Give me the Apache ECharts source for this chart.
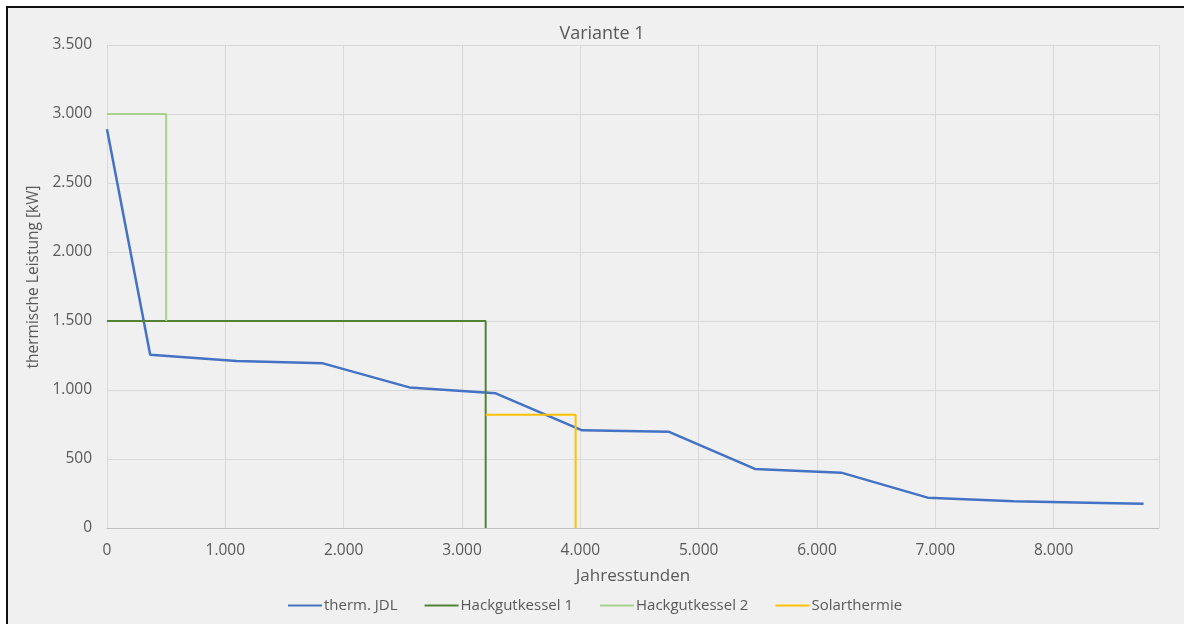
<!DOCTYPE html>
<html>
<head>
<meta charset="utf-8">
<script src="https://cdn.jsdelivr.net/npm/echarts@6/dist/echarts.min.js"></script>
<style>
html,body{margin:0;padding:0;background:#fff;}
#bg{position:absolute;left:6px;top:6px;width:1178px;height:618px;background:#f0f0f0;border-left:2px solid #111;border-top:2px solid #111;box-sizing:border-box;}
#c{position:absolute;left:0;top:0;width:1184px;height:624px;}
</style>
</head>
<body>
<div id="bg"></div>
<div id="c"></div>
<script>
// Data
const jdlHours  = [0, 365, 1095, 1825, 2555, 3285, 4015, 4745, 5475, 6205, 6935, 7665, 8395, 8760];
const jdlValues = [2890, 1256, 1210, 1193, 1019, 976, 708, 698, 428, 401, 220, 193, 181, 175];
const hk1Hours  = [0, 3200, 3200];
const hk1Values = [1500, 1500, 0];
const hk2Hours  = [0, 500, 500];
const hk2Values = [3000, 3000, 1500];
const solHours  = [3200, 3960, 3960];
const solValues = [820, 820, 0];
const seriesNames = ['therm. JDL', 'Hackgutkessel 1', 'Hackgutkessel 2', 'Solarthermie'];
const titleText = 'Variante 1';
const xName = 'Jahresstunden';
const yName = 'thermische Leistung [kW]';

const pairs = (xs, ys) => xs.map((x, i) => [x, ys[i]]);
const fmt = v => String(v).replace(/\B(?=(\d{3})+(?!\d))/g, '.');
const FONT = 'Open Sans';
const TXT = '#595959';

const chart = echarts.init(document.getElementById('c'), null, {renderer: 'canvas'});
const mk = (name, data, color, width) => ({
  name, type: 'line', data, showSymbol: false, symbol: 'none',
  lineStyle: {color, width}, itemStyle: {color}, animation: false
});
chart.setOption({
  backgroundColor: 'transparent',
  textStyle: {fontFamily: FONT},
  title: {
    text: titleText, left: 597, top: 20, textAlign: 'center',
    textStyle: {fontFamily: FONT, fontSize: 18, fontWeight: 'normal', color: TXT}
  },
  grid: {left: 107, right: 25, top: 45, bottom: 96},
  xAxis: {
    type: 'value', min: 0, max: 8890, interval: 1000,
    name: xName, nameLocation: 'middle', nameGap: 40,
    nameTextStyle: {fontFamily: FONT, fontSize: 17, color: TXT},
    axisLine: {show: true, lineStyle: {color: '#bfbfbf', width: 1}},
    axisTick: {show: false},
    axisLabel: {color: TXT, fontFamily: FONT, fontSize: 15.5, margin: 15, formatter: fmt, showMaxLabel: false},
    splitLine: {show: true, lineStyle: {color: '#d9d9d9', width: 1}}
  },
  yAxis: {
    type: 'value', min: 0, max: 3500, interval: 500,
    name: yName, nameLocation: 'middle', nameGap: 61, nameRotate: 90,
    nameTextStyle: {fontFamily: FONT, fontSize: 15.5, color: TXT, padding: [0, 0, 0, 19]},
    axisLine: {show: false},
    axisTick: {show: false},
    axisLabel: {color: TXT, fontFamily: FONT, fontSize: 15.5, margin: 15, formatter: fmt},
    splitLine: {show: true, lineStyle: {color: '#d9d9d9', width: 1}}
  },
  legend: {
    left: 283, top: 593, itemWidth: 34, itemHeight: 2, itemGap: 27,
    icon: 'rect',
    textStyle: {fontFamily: FONT, fontSize: 15, color: TXT, padding: [0, 0, 0, -3]},
    data: seriesNames
  },
  series: [
    mk(seriesNames[0], pairs(jdlHours, jdlValues), '#4472c4', 2.5),
    mk(seriesNames[1], pairs(hk1Hours, hk1Values), '#548235', 2),
    mk(seriesNames[2], pairs(hk2Hours, hk2Values), '#a9d18e', 2),
    mk(seriesNames[3], pairs(solHours, solValues), '#ffc000', 2)
  ]
});
</script>
</body>
</html>
